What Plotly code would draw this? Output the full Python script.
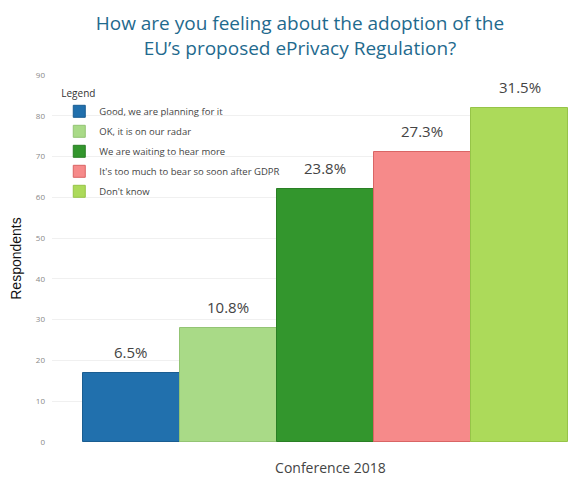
import plotly.graph_objects as go

# survey answers, respondents per answer (N = 260)
answers = ["Good, we are planning for it", "OK, it is on our radar", "We are waiting to hear more",
           "It's too much to bear so soon after GDPR", "Don't know"]
respondents = [17, 28, 62, 71, 82]
shares = ["6.5%", "10.8%", "23.8%", "27.3%", "31.5%"]
category = ["Conference 2018"]

colors = ["#2170ad", "#a9da87", "#33962d", "#f68a8a", "#acda5a"]
edges = ["#1a5d91", "#93c474", "#2a7f25", "#d96565", "#96c448"]

fig = go.Figure()
for i, name in enumerate(answers):
    fig.add_trace(go.Bar(x=category, y=[respondents[i]], name=name, legendgroup=str(i),
                         marker=dict(color=colors[i], line=dict(color=edges[i], width=1))))

# percentage labels above the bars
n = len(answers)
for i in range(n):
    fig.add_annotation(x=-0.5 + (i + 0.5) / n, y=respondents[i], text=shares[i], showarrow=False,
                       yanchor="bottom", yshift=9, font=dict(family="Open Sans", size=15, color="#444444"))

# page has an 8px body margin, so the figure is a bit smaller than the window
fig.update_layout(
    width=568, height=473,
    margin=dict(l=42, r=4, t=67, b=39),
    paper_bgcolor="white", plot_bgcolor="white",
    barmode="group", bargap=0, bargroupgap=0,
    font=dict(family="Open Sans", color="#444444"),
    title=dict(text="How are you feeling about the adoption of the<br>EU’s proposed ePrivacy Regulation?",
               x=0.514, xanchor="center", y=0.9535, yanchor="middle",
               font=dict(family="Open Sans", size=19, color="#1f6a8e")),
    legend=dict(x=0.014, y=0.976, xanchor="left", yanchor="top", bgcolor="rgba(255,255,255,0)",
                title=dict(text="Legend", font=dict(size=10, color="#333333")),
                font=dict(size=9.5, color="#444444"), tracegroupgap=1, itemwidth=30),
    showlegend=True,
)
fig.update_xaxes(range=[-0.5637, 0.5082], showgrid=False, showline=False, ticks="",
                 tickfont=dict(family="Open Sans", size=14, color="#444444"),
                 ticklabelshift=5, ticklabelstandoff=16)
fig.update_yaxes(range=[0, 90], dtick=10, showgrid=True, gridcolor="#f0f0f0", zeroline=False,
                 tickfont=dict(family="Open Sans", size=8, color="#888888"), ticklabelstandoff=6,
                 title=dict(text="Respondents", font=dict(family="Liberation Sans", size=14, color="#111111"),
                            standoff=14))

fig.write_html("out.html")
